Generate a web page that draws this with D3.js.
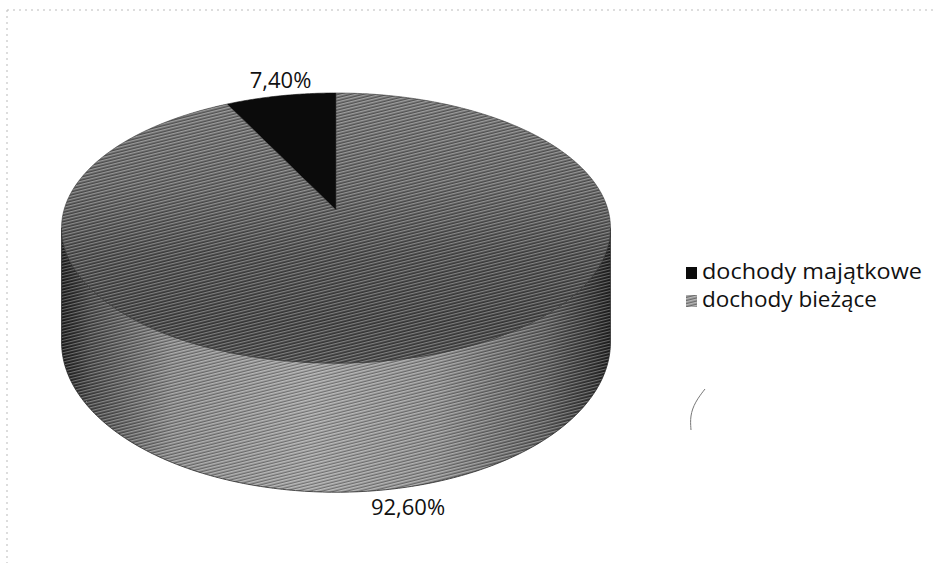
<!DOCTYPE html>
<html>
<head>
<meta charset="utf-8">
<script src="https://cdn.jsdelivr.net/npm/d3@7/dist/d3.min.js"></script>
<style>
  html, body { margin: 0; padding: 0; background: #fff; }
  svg { display: block; }
</style>
</head>
<body>
<svg id="chart" width="936" height="563"></svg>
<script>
// ---- data ----
const categories = ["dochody majątkowe", "dochody bieżące"];
const values = [7.40, 92.60];
const valueLabels = ["7,40%", "92,60%"];

// ---- layout ----
const svg = d3.select("#chart");
const defs = svg.append("defs");

// perspective-ish projection of the 3D pie
const cx = 336, A = 210, B = 104.6, K = -0.1333, R = 272, DEPTH = 112;
function proj(angle, z) {
  const u = Math.sin(angle), v = -Math.cos(angle);
  const den = 1 + K * v;
  return [cx + R * u / den, (A + B * v + DEPTH * z) / den];
}

const startOff = -2 * Math.PI * values[0] / 100;
const pie = d3.pie().sort(null).value(d => d)
  .startAngle(startOff).endAngle(startOff + 2 * Math.PI);
const arcs = pie(values);

// texture pattern (scan-like stripes)
const pat = defs.append("pattern").attr("id", "tex")
  .attr("patternUnits", "userSpaceOnUse").attr("width", 6).attr("height", 3)
  .attr("patternTransform", "rotate(-14)");
pat.append("rect").attr("x", 0).attr("y", 0).attr("width", 6).attr("height", 1)
  .attr("fill", "#fff").attr("opacity", 0.3);
pat.append("rect").attr("x", 0).attr("y", 2).attr("width", 6).attr("height", 1)
  .attr("fill", "#000").attr("opacity", 0.3);

// gradients
const gTop = defs.append("linearGradient").attr("id", "gTop")
  .attr("gradientUnits", "userSpaceOnUse").attr("x1", 0).attr("y1", 93).attr("x2", 0).attr("y2", 363);
[[0, "#787878"], [0.35, "#676767"], [0.6, "#4f4f4f"], [0.85, "#464646"], [1, "#4c4c4c"]]
  .forEach(([o, c]) => gTop.append("stop").attr("offset", o).attr("stop-color", c));

const gSide = defs.append("linearGradient").attr("id", "gSide")
  .attr("gradientUnits", "userSpaceOnUse").attr("x1", 63).attr("y1", 0).attr("x2", 612).attr("y2", 0);
[[0, "#222"], [0.05, "#4a4a4a"], [0.2, "#8c8c8c"], [0.45, "#a2a2a2"], [0.68, "#909090"], [0.88, "#5e5e5e"], [0.97, "#333"], [1, "#1e1e1e"]]
  .forEach(([o, c]) => gSide.append("stop").attr("offset", o).attr("stop-color", c));

// faint scan border
svg.append("line").attr("x1", 7).attr("y1", 10).attr("x2", 934).attr("y2", 10)
  .attr("stroke", "#bbb").attr("stroke-width", 1).attr("stroke-dasharray", "2,4");
svg.append("line").attr("x1", 7).attr("y1", 10).attr("x2", 7).attr("y2", 563)
  .attr("stroke", "#bbb").attr("stroke-width", 1).attr("stroke-dasharray", "2,4");

// find silhouette angles (extreme x)
const samples = d3.range(0, 2 * Math.PI, 0.001);
let aR = samples[0], aL = samples[0], maxX = -1e9, minX = 1e9;
samples.forEach(a => { const x = proj(a, 0)[0]; if (x > maxX) { maxX = x; aR = a; } if (x < minX) { minX = x; aL = a; } });

const line = d3.line();
function arcPts(a0, a1, z, n) {
  return d3.range(n + 1).map(i => proj(a0 + (a1 - a0) * i / n, z));
}

// side wall (front, visible part) – belongs to the large slice
const big = arcs[1];
const sideA0 = Math.max(aR, big.startAngle), sideA1 = Math.min(aL, big.endAngle);
const sidePts = arcPts(sideA0, sideA1, 0, 200).concat(arcPts(sideA1, sideA0, 1, 200));
const sideG = svg.append("g");
sideG.append("path").attr("d", line(sidePts) + "Z").attr("fill", "url(#gSide)");
sideG.append("path").attr("d", line(sidePts) + "Z").attr("fill", "url(#tex)")
  .attr("stroke", "#2a2a2a").attr("stroke-width", 0.8);

// top faces
const fills = ["#0b0b0b", "url(#gTop)"];
const topG = svg.append("g");
arcs.forEach((d, i) => {
  const pts = [[cx, A]]
    .concat(arcPts(d.startAngle, d.endAngle, 0, Math.max(20, Math.round((d.endAngle - d.startAngle) * 100))));
  const p = line(pts) + "Z";
  topG.append("path").attr("d", p).attr("fill", fills[i]);
  if (i === 1) topG.append("path").attr("d", p).attr("fill", "url(#tex)");
  topG.append("path").attr("d", p).attr("fill", "none")
    .attr("stroke", i === 0 ? "#0b0b0b" : "#3a3a3a").attr("stroke-width", 0.6);
});

// data labels
const font = "'Open Sans', 'DejaVu Sans', sans-serif";
arcs.forEach((d, i) => {
  const mid = (d.startAngle + d.endAngle) / 2;
  const front = -Math.cos(mid) > 0;
  const p = proj(mid, front ? 1 : 0);
  svg.append("text")
    .attr("x", p[0]).attr("y", front ? p[1] + 28 : p[1] - 8)
    .attr("text-anchor", "middle")
    .attr("font-family", font).attr("font-size", 22)
    .attr("fill", "#111")
    .text(valueLabels[i]);
});

// legend
const legend = svg.append("g").attr("transform", "translate(686,267)");
const legFills = ["#0b0b0b", "#9a9a9a"];
const legWidths = [220, 175];
categories.forEach((c, i) => {
  const g = legend.append("g").attr("transform", `translate(0,${i * 28})`);
  g.append("rect").attr("width", 11).attr("height", 12).attr("fill", legFills[i]);
  if (i === 1) g.append("rect").attr("width", 11).attr("height", 12).attr("fill", "url(#tex)");
  g.append("text").attr("x", 16).attr("y", 12)
    .attr("font-family", font).attr("font-size", 21).attr("fill", "#111")
    .attr("textLength", legWidths[i]).attr("lengthAdjust", "spacingAndGlyphs")
    .text(c);
});

// small scan artefact stroke
svg.append("path")
  .attr("d", d3.line().curve(d3.curveBasis)([[705, 389], [695, 402], [690, 416], [691, 430]]))
  .attr("fill", "none").attr("stroke", "#777").attr("stroke-width", 1);
</script>
</body>
</html>
